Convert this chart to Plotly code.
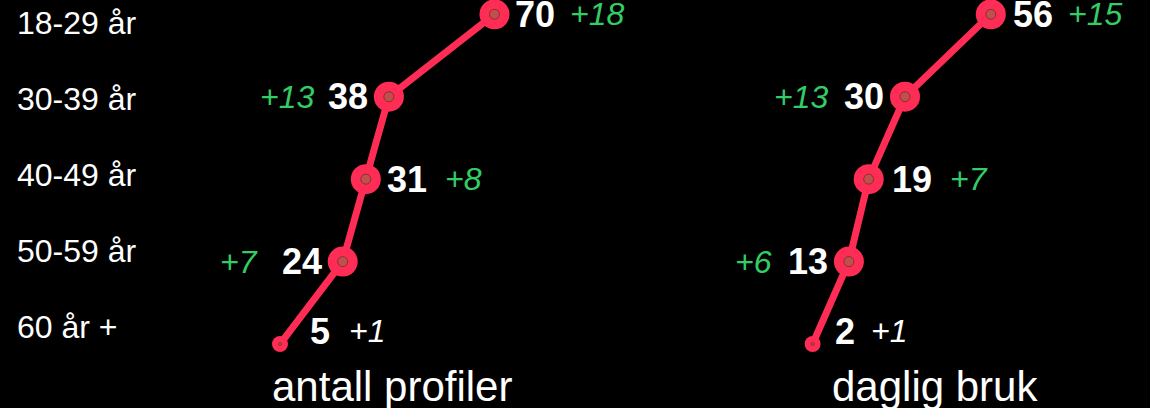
import plotly.graph_objects as go

# ---------------- data ----------------
age_groups = ["18-29 år", "30-39 år", "40-49 år", "50-59 år", "60 år +"]
profiles = [70, 38, 31, 24, 5]
profiles_change = [18, 13, 8, 7, 1]
daily_use = [56, 30, 19, 13, 2]
daily_use_change = [15, 13, 7, 6, 1]
panel_titles = ["antall profiler", "daglig bruk"]

# ---------------- style ----------------
FONT = "Liberation Sans, Arial, sans-serif"
RED = "#ff2d55"
INNER = "#c0504d"
INNER_EDGE = "#8a2e2e"
GREEN = "#33cc66"
WHITE = "#ffffff"

outer_sizes = [30, 30, 30, 30, 16]
inner_sizes = [10, 10, 10, 10, 3]
change_colors = [GREEN, GREEN, GREEN, GREEN, WHITE]
row_yshift = [0, 0, 0, 0, 13]

panels = [
    dict(title=panel_titles[0], values=profiles, changes=profiles_change,
         xa="x", ya="y",
         val_shift=[19, -19, 19, -19, 28],
         chg_shift=[74, -73, 77, -83, 67]),
    dict(title=panel_titles[1], values=daily_use, changes=daily_use_change,
         xa="x2", ya="y2",
         val_shift=[20, -19, 21, -19, 20],
         chg_shift=[75, -75, 79, -75, 56]),
]

fig = go.Figure()
annotations = []

for p in panels:
    # thick line + big outer markers
    fig.add_trace(go.Scatter(
        x=p["values"], y=age_groups, xaxis=p["xa"], yaxis=p["ya"],
        mode="lines+markers",
        line=dict(color=RED, width=7),
        marker=dict(size=outer_sizes, color=RED, opacity=1,
                    line=dict(width=0, color=RED)),
        cliponaxis=False, hoverinfo="skip", showlegend=False))
    # inner dots
    fig.add_trace(go.Scatter(
        x=p["values"], y=age_groups, xaxis=p["xa"], yaxis=p["ya"],
        mode="markers",
        marker=dict(size=inner_sizes, color=INNER, opacity=1,
                    line=dict(color=INNER_EDGE, width=1)),
        cliponaxis=False, hoverinfo="skip", showlegend=False))

    for i, (v, c) in enumerate(zip(p["values"], p["changes"])):
        vs = p["val_shift"][i]
        cs = p["chg_shift"][i]
        annotations.append(dict(
            x=v, y=age_groups[i], xref=p["xa"], yref=p["ya"],
            text=str(v), showarrow=False,
            xanchor="left" if vs > 0 else "right", yanchor="middle",
            xshift=vs, yshift=row_yshift[i],
            font=dict(family=FONT, size=36, color=WHITE, weight="bold")))
        annotations.append(dict(
            x=v, y=age_groups[i], xref=p["xa"], yref=p["ya"],
            text=f"+{c}", showarrow=False,
            xanchor="left" if cs > 0 else "right", yanchor="middle",
            xshift=cs, yshift=row_yshift[i],
            font=dict(family=FONT, size=32, color=change_colors[i], style="italic")))

    annotations.append(dict(
        x=0.5, y=0, xref=f"{p['xa']} domain", yref="paper",
        text=p["title"], showarrow=False,
        xanchor="center", yanchor="middle", yshift=-28,
        font=dict(family=FONT, size=42, color=WHITE)))

# row labels on the left
fig.add_trace(go.Scatter(
    x=[None] * len(age_groups), y=age_groups, xaxis="x", yaxis="y3",
    mode="markers", hoverinfo="skip", showlegend=False))
for g in age_groups:
    annotations.append(dict(
        x=0, y=g, xref="paper", yref="y3", text=g, showarrow=False,
        xanchor="left", yanchor="middle", xshift=15,
        font=dict(family=FONT, size=32, color=WHITE)))

hidden = dict(showgrid=False, zeroline=False, showticklabels=False,
              showline=False, ticks="")

fig.update_layout(
    width=1150, height=408,
    margin=dict(l=0, r=0, t=0, b=50),
    paper_bgcolor="black", plot_bgcolor="black",
    showlegend=False,
    xaxis=dict(domain=[0.22913, 0.45296], range=[0, 78], **hidden),
    xaxis2=dict(domain=[0.70087, 0.92470], range=[0, 78], **hidden),
    yaxis=dict(type="category", categoryorder="array", categoryarray=age_groups,
               range=[4.1696, -0.1735], anchor="x", **hidden),
    yaxis2=dict(type="category", categoryorder="array", categoryarray=age_groups,
                range=[4.1696, -0.1735], anchor="x2", **hidden),
    yaxis3=dict(type="category", categoryorder="array", categoryarray=age_groups,
                range=[4.404, -0.3066], overlaying="y", anchor="x", **hidden),
    annotations=annotations,
)

fig.write_html(
    "out.html",
    config={"displayModeBar": False},
    post_script="document.body.style.margin='0';document.body.style.background='black';"
                "document.body.style.overflow='hidden';",
)
